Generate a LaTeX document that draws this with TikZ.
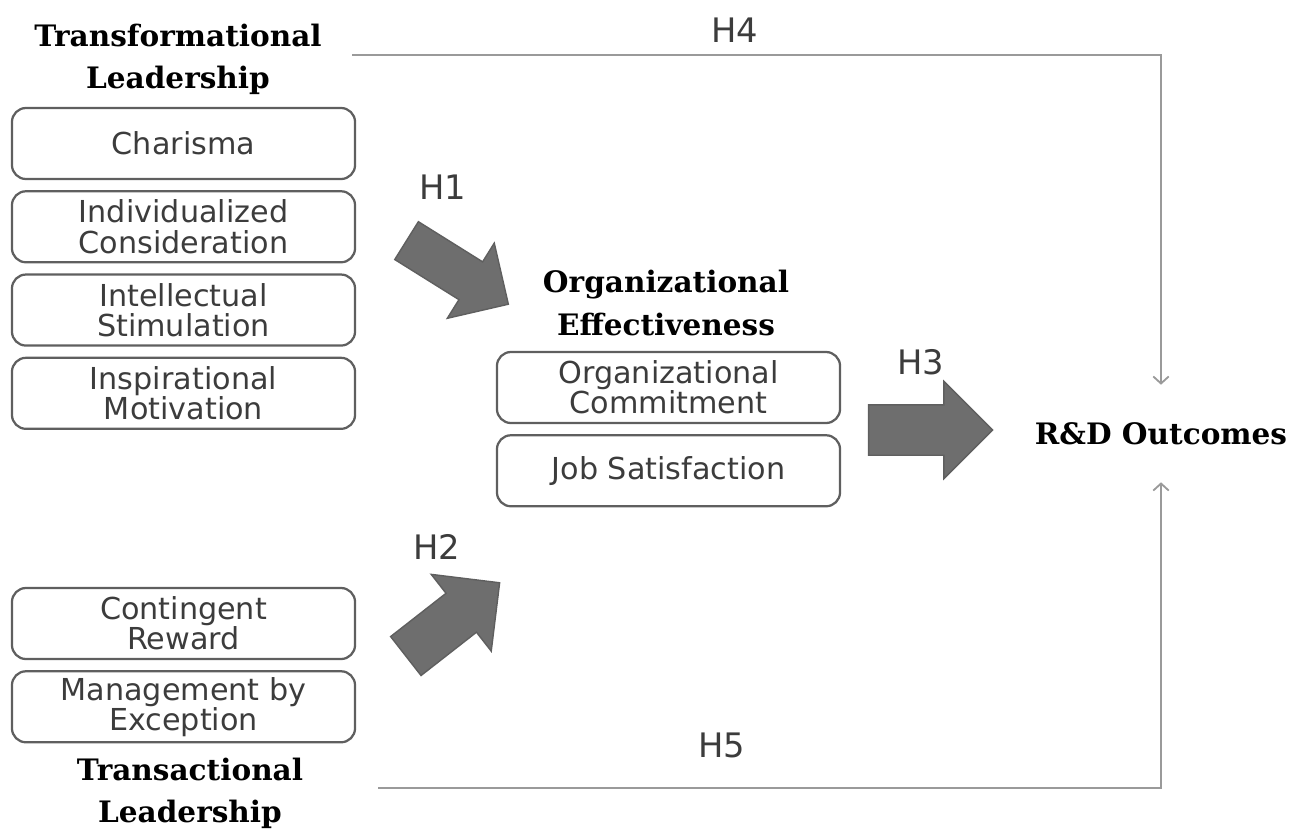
\documentclass[tikz,border=0pt]{standalone}
\usepackage{fontspec}
\usepackage{xcolor}
\usepackage{tikz}
\usetikzlibrary{arrows.meta}
\usetikzlibrary{positioning}
\usetikzlibrary{shapes.arrows}
\newfontfamily\boxfont{DejaVu Sans}
\newfontfamily\headfont{DejaVu Serif}
\definecolor{boxline}{HTML}{5F5F5F}
\definecolor{boxtext}{HTML}{3C3C3C}
\definecolor{fatfill}{HTML}{6E6E6E}
\definecolor{thinline}{HTML}{9A9A9A}
\tikzset{>={Straight Barb[length=5pt,width=11pt]}}
\tikzstyle{factor} = [rectangle, rounded corners=0.35cm, draw=boxline, line width=1.6pt, minimum width=8.575cm, minimum height=1.775cm, align=center, text=boxtext, inner sep=0, font=\boxfont\fontsize{21.5}{21.5}\selectfont]
\tikzstyle{construct} = [draw=none, align=center, inner sep=0, font=\headfont\bfseries\fontsize{21}{30}\selectfont]
\tikzstyle{hyp} = [draw=none, text=boxtext, inner sep=0, font=\boxfont\fontsize{24}{24}\selectfont]
\tikzstyle{fat} = [single arrow, single arrow head indent=0, fill=fatfill, draw=boxline, line width=1pt, inner xsep=0]
\tikzstyle{path} = [->, draw=thinline, line width=1.3pt]

\begin{document}
\begin{tikzpicture}[x=0.025cm, y=-0.025cm]
\useasboundingbox (0,0) rectangle (1304,831);
% transformational leadership
\node [construct] (tfl) at (178,59) {Transformational\\Leadership};
\node [factor] (c1) at (183.5,143.5) {Charisma};
\node [factor, below=0.25cm of c1] (c2) {Individualized\\Consideration};
\node [factor, below=0.25cm of c2] (c3) {Intellectual\\Stimulation};
\node [factor, below=0.25cm of c3] (c4) {Inspirational\\Motivation};
% transactional leadership
\node [factor] (t1) at (183.5,623.5) {Contingent\\Reward};
\node [factor, below=0.25cm of t1] (t2) {Management by\\Exception};
\node [construct] (tsl) at (190,793) {Transactional\\Leadership};
% organizational effectiveness
\node [construct] (oe) at (666,303) {Organizational\\Effectiveness};
\node [factor] (o1) at (668.5,387.5) {Organizational\\Commitment};
\node [factor, below=0.25cm of o1] (o2) {Job Satisfaction};
\node [construct, minimum height=2.425cm] (rd) at (1161,433.5) {R\&D Outcomes};
% big arrows
\node [fat, rotate=-32, minimum height=3cm, inner ysep=0.54cm, single arrow head extend=0.55cm] (a1) at (448,266.5) {};
\node [fat, rotate=38, minimum height=2.975cm, inner ysep=0.6cm, single arrow head extend=0.6cm] (a2) at (443,627) {};
\node [fat, minimum height=3.1cm, inner ysep=0.6125cm, single arrow head extend=0.5875cm] (a3) at (918,430) {};
\node [hyp] (h1) at (443,187) {H1};
\node [hyp] (h2) at (437,547) {H2};
\node [hyp] (h3) at (921,362) {H3};
\node [hyp] (h4) at (735,30) {H4};
\node [hyp] (h5) at (722,745) {H5};
% direct paths
\coordinate (h4s) at (352,55);
\coordinate (h5s) at (378,788);
\draw [path] (h4s) -| (rd.north);
\draw [path] (h5s) -| (rd.south);
\end{tikzpicture}
\end{document}
